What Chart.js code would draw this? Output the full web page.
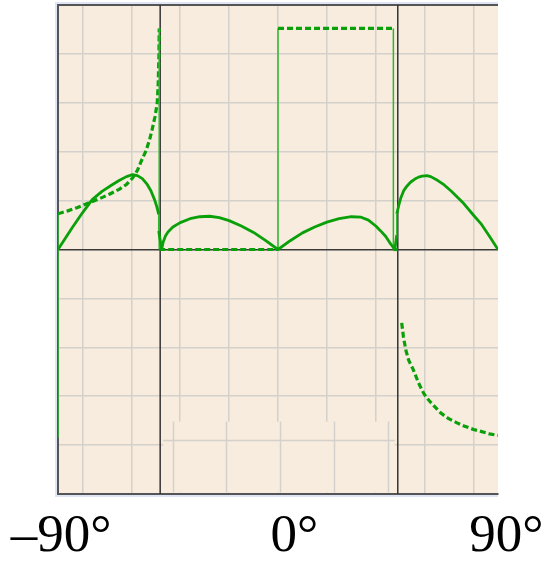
<!DOCTYPE html>
<html><head><meta charset="utf-8">
<script src="https://cdn.jsdelivr.net/npm/chart.js@4/dist/chart.umd.min.js"></script>
<style>html,body{margin:0;padding:0;background:#fff}#wrap{width:543px;height:561px;position:relative}</style>
</head><body><div id="wrap"><canvas id="c"></canvas></div>
<script>
// ---- data ----
const tickValues = [-90, 0, 90];
const tickLabels = ['\u201390°', '\u20020°', '\u200990°'];
const gridValues = [-80, -60, -40, -20, 0, 20, 40, 60, 80];
const criticalAngles = [-48.2, 49.0];

const solidX = [-90, -90, -87, -84, -80, -76, -72, -68, -65, -62, -59.5, -57.5, -55.5, -53.5, -52, -50.5, -49.5, -48.8, -48.8, -47.6,
  -47, -46, -45, -43, -40, -36, -32, -28, -24, -20, -15, -10, -5, 0,
  5, 10, 15, 20, 25, 30, 34, 37, 40, 42, 44, 46, 47.8, 48.6, 48.6,
  49.4, 50.2, 51.5, 52.8, 54.3, 56, 57.5, 59, 60.9, 62.5, 65.4, 68, 70.7, 73, 76, 80, 83, 86.5, 90];
const solidY = [-3.85, 0, 0.23, 0.46, 0.75, 1.02, 1.19, 1.32, 1.41, 1.49, 1.53, 1.51, 1.45, 1.33, 1.2, 1.02, 0.86, 0.72, 0.38, 0,
  0.15, 0.28, 0.36, 0.46, 0.55, 0.63, 0.67, 0.68, 0.65, 0.59, 0.48, 0.35, 0.18, 0,
  0.18, 0.34, 0.46, 0.56, 0.63, 0.67, 0.66, 0.6, 0.48, 0.38, 0.27, 0.12, 0, 0.3, 0.73,
  0.9, 1.05, 1.21, 1.3, 1.38, 1.44, 1.48, 1.5, 1.51, 1.49, 1.41, 1.32, 1.2, 1.09, 0.94, 0.7, 0.53, 0.27, 0];

const dashedX = [-90, -90, -86, -82, -77, -73, -69, -65, -62, -59.5, -57.5, -56, -54, -52.5, -51.5, -50.3, -49.4, -49, -48.7, -48.6, -48.6,
  0, 0, 47.2, 47.2, 49, 49.8,
  50.6, 51.3, 52.3, 53.5, 55.2, 57.5, 59.7, 61.8, 63.8, 66.5, 69.5, 73, 76.1, 80, 83, 86.5, 90];
const dashedY = [0, 0.73, 0.79, 0.86, 0.96, 1.04, 1.13, 1.23, 1.33, 1.46, 1.62, 1.8, 2.02, 2.25, 2.45, 2.72, 3.0, 3.4, 4.0, 4.52, 0,
  0, 4.52, 4.52, 0, 0, null,
  -1.5, -1.78, -2.06, -2.27, -2.44, -2.73, -2.95, -3.09, -3.2, -3.34, -3.45, -3.54, -3.61, -3.68, -3.72, -3.77, -3.8];

// ---- styling ----
const GREEN = '#0aa00a';
const THIN_GREEN = '#2cb82c';
const GRID = '#d4d0cb';
const FRAME = '#555555';

const zip = (xs, ys) => xs.map((x, i) => ({x: x, y: ys[i]}));
const isVertical = c => Math.abs(c.p0.parsed.x - c.p1.parsed.x) < 0.05;

const framePlugin = {
  id: 'frame',
  beforeDraw(chart) {
    const {ctx, chartArea: a} = chart;
    ctx.save();
    ctx.fillStyle = '#dfe5f4';
    ctx.fillRect(a.left - 3, a.top - 3, a.right - a.left + 3, 3);
    ctx.fillRect(a.left - 3, a.bottom, a.right - a.left + 3, 3);
    ctx.fillRect(a.left - 3, a.top - 3, 3, a.bottom - a.top + 6);
    ctx.fillStyle = '#f7ecdd';
    ctx.fillRect(a.left, a.top, a.right - a.left, a.bottom - a.top);
    ctx.restore();
  }
};

// the pasted-over grid fragment near the bottom of the plot
const patchPlugin = {
  id: 'patch',
  beforeDatasetsDraw(chart) {
    const xs = chart.scales.x, ys = chart.scales.y, ctx = chart.ctx;
    const l = xs.getPixelForValue(-47.0), r = xs.getPixelForValue(47.8);
    const t = ys.getPixelForValue(-3.52), b = ys.getPixelForValue(-4.97);
    ctx.save();
    ctx.fillStyle = '#f7ecdd';
    ctx.fillRect(l, t, r - l, b - t);
    ctx.strokeStyle = GRID;
    ctx.lineWidth = 1.5;
    [-42.8, -21.1, 1.0, 22.8, 44.9].forEach(v => {
      const p = Math.round(xs.getPixelForValue(v)) + 0.5;
      ctx.beginPath(); ctx.moveTo(p, t); ctx.lineTo(p, b); ctx.stroke();
    });
    const h = Math.round(ys.getPixelForValue(-3.9)) + 0.5;
    ctx.beginPath(); ctx.moveTo(l, h); ctx.lineTo(r, h); ctx.stroke();
    ctx.restore();
  }
};

const refSets = criticalAngles.map(a => ({
  data: [{x: a, y: -5}, {x: a, y: 5}],
  showLine: true, borderColor: '#333333', borderWidth: 1.5, pointRadius: 0, order: 3
}));

new Chart(document.getElementById('c'), {
  type: 'scatter',
  data: {
    datasets: [
      ...refSets,
      {
        data: zip(dashedX, dashedY), showLine: true, spanGaps: false, pointRadius: 0, order: 1,
        borderColor: GREEN, borderWidth: 3.2, borderDash: [6, 3], borderCapStyle: 'butt',
        segment: {
          borderWidth: c => isVertical(c) ? 1.5 : 3.2,
          borderDash: c => isVertical(c) ? [] : [6, 3],
          borderColor: c => isVertical(c) ? THIN_GREEN : GREEN
        }
      },
      {
        data: zip(solidX, solidY), showLine: true, pointRadius: 0, order: 0,
        borderColor: GREEN, borderWidth: 2.8, borderJoinStyle: 'round',
        segment: {
          borderWidth: c => isVertical(c) ? 1.5 : 2.8,
          borderColor: c => isVertical(c) ? THIN_GREEN : GREEN
        }
      }
    ]
  },
  options: {
    responsive: true, maintainAspectRatio: false, animation: false,
    layout: {padding: {left: 58, right: 45, top: 5, bottom: 0}},
    plugins: {legend: {display: false}, tooltip: {enabled: false}},
    scales: {
      x: {
        type: 'linear', min: -90, max: 90,
        afterBuildTicks: axis => {
          axis.ticks = [...new Set([...tickValues, ...gridValues])].sort((a, b) => a - b).map(v => ({value: v}));
        },
        afterFit: s => { s.height = 67; s.paddingLeft = 0; s.paddingRight = 0; },
        grid: {
          drawTicks: false, lineWidth: 1.5,
          color: c => gridValues.includes(c.tick.value) ? GRID : 'rgba(0,0,0,0)'
        },
        border: {display: true, color: FRAME, width: 2},
        ticks: {
          autoSkip: false, maxRotation: 0, padding: 19, labelOffset: 3, color: '#000',
          font: {family: '"Liberation Serif", "Times New Roman", serif', size: 53, lineHeight: 0.9},
          callback: v => { const i = tickValues.indexOf(v); return i >= 0 ? tickLabels[i] : ''; }
        }
      },
      y: {
        type: 'linear', min: -5, max: 5,
        afterFit: s => { s.width = 0; s.paddingTop = 0; s.paddingBottom = 0; },
        ticks: {display: false, stepSize: 1},
        grid: {
          drawTicks: false,
          lineWidth: c => c.tick.value === 5 ? 2 : 1.5,
          color: c => c.tick.value === 0 ? '#3a3a3a' : (c.tick.value === 5 ? FRAME : GRID)
        },
        border: {display: true, color: FRAME, width: 2}
      }
    }
  },
  plugins: [framePlugin, patchPlugin]
});
</script>
</body></html>
